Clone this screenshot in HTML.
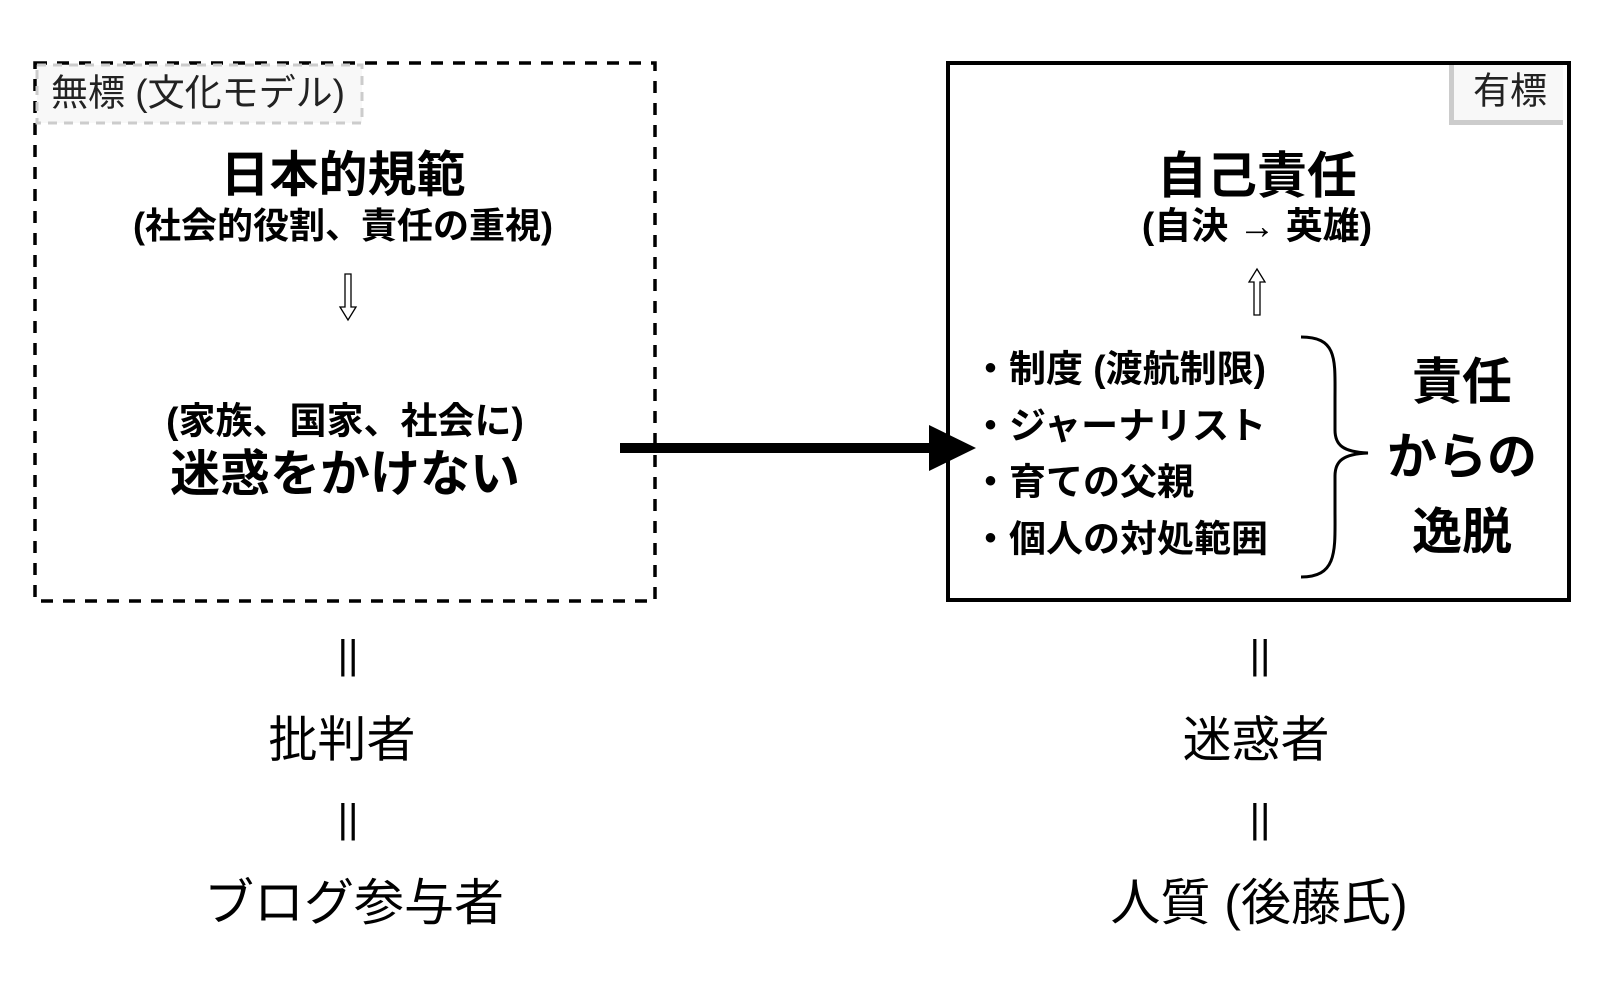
<!DOCTYPE html>
<html><head><meta charset="utf-8"><style>
body{margin:0;width:1600px;height:1000px;background:#fff;position:relative;overflow:hidden;font-family:"Liberation Sans","Noto Sans CJK JP",sans-serif;color:#000}
.t{position:absolute;white-space:nowrap;transform:translate(-50%,-50%);line-height:1}
.b{font-weight:bold}
.l{position:absolute;white-space:nowrap;line-height:1;transform:translateY(-50%);font-weight:bold;font-size:37px}
</style></head><body>
<svg style="position:absolute;left:0;top:0" width="1600" height="1000">
<rect x="35" y="63" width="620" height="538" fill="none" stroke="#000" stroke-width="3.5" stroke-dasharray="12,10"/>
<rect x="37" y="65" width="325" height="58" fill="#f8f8f8" stroke="#ccc" stroke-width="3" stroke-dasharray="9,7"/>
</svg>
<div class="t" style="left:198px;top:93px;font-size:37px;color:#222">無標 (文化モデル)</div>
<div style="position:absolute;left:946px;top:61px;width:617px;height:533px;border:4px solid #000"></div>
<div style="position:absolute;left:1449px;top:65px;width:114px;height:60px;background:#f8f8f8;border-left:5px solid #ccc;border-bottom:5px solid #ccc;box-sizing:border-box"></div>
<div class="t" style="left:1510px;top:91px;font-size:37px;color:#222">有標</div>

<div class="t b" style="left:343px;top:176px;font-size:49px">日本的規範</div>
<div class="t b" style="left:343px;top:226px;font-size:36px">(社会的役割、責任の重視)</div>
<svg style="position:absolute;left:338px;top:273px" width="20" height="50"><path d="M7 1 V34 H2 L10 47 L18 34 H13 V1 Z" fill="#fff" stroke="#000" stroke-width="1.3"/></svg>
<div class="t b" style="left:345px;top:421px;font-size:37px">(家族、国家、社会に)</div>
<div class="t b" style="left:345px;top:474px;font-size:50px">迷惑をかけない</div>

<svg style="position:absolute;left:0;top:0" width="1600" height="1000"><line x1="620" y1="448" x2="935" y2="448" stroke="#000" stroke-width="10"/><polygon points="929,425 976,448 929,471" fill="#000"/>
<path d="M1308 337 C1345 337,1342 360,1342 400 L1342 430 C1342 445,1350 452,1375 453 C1350 454,1342 461,1342 476 L1342 510 C1342 550,1345 577,1308 577" fill="none" stroke="#000" stroke-width="3" transform="translate(-7,0)"/></svg>

<div class="t b" style="left:1257px;top:176px;font-size:50px">自己責任</div>
<div class="t b" style="left:1257px;top:226px;font-size:37px">(自決 → 英雄)</div>
<svg style="position:absolute;left:1247px;top:267px" width="20" height="50"><path d="M7 48 V15 H2 L10 2 L18 15 H13 V48 Z" fill="#fff" stroke="#000" stroke-width="1.3"/></svg>
<div class="l" style="left:972px;top:369px">・制度 (渡航制限)</div>
<div class="l" style="left:972px;top:426px">・ジャーナリスト</div>
<div class="l" style="left:972px;top:482px">・育ての父親</div>
<div class="l" style="left:972px;top:539px">・個人の対処範囲</div>
<div class="t b" style="left:1462px;top:382px;font-size:50px">責任</div>
<div class="t b" style="left:1462px;top:457px;font-size:50px">からの</div>
<div class="t b" style="left:1462px;top:532px;font-size:50px">逸脱</div>

<div class="t" style="left:348px;top:655px;font-size:40px">||</div>
<div class="t" style="left:342px;top:741px;font-size:49px">批判者</div>
<div class="t" style="left:348px;top:819px;font-size:40px">||</div>
<div class="t" style="left:354px;top:903px;font-size:50px">ブログ参与者</div>
<div class="t" style="left:1260px;top:655px;font-size:40px">||</div>
<div class="t" style="left:1256px;top:741px;font-size:49px">迷惑者</div>
<div class="t" style="left:1260px;top:819px;font-size:40px">||</div>
<div class="t" style="left:1259px;top:903px;font-size:50px">人質 (後藤氏)</div>
</body></html>
